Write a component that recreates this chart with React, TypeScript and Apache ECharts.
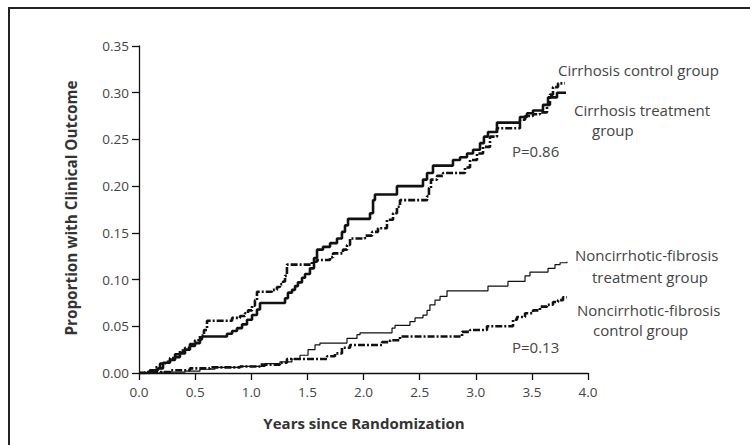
import React, { useEffect, useRef } from "react";
import * as echarts from "echarts";

// Years since randomization / cumulative proportion (step functions)
const cirrhosisTreatment: [number, number][] = [
  [0, 0], [0.098, 0.003], [0.169, 0.005], [0.214, 0.011], [0.276, 0.014], [0.321, 0.017],
  [0.365, 0.021], [0.41, 0.025], [0.454, 0.029], [0.499, 0.032], [0.543, 0.036], [0.561, 0.039],
  [0.784, 0.042], [0.829, 0.045], [0.873, 0.048], [0.918, 0.052], [0.962, 0.057], [1.007, 0.062],
  [1.051, 0.068], [1.078, 0.075], [1.301, 0.08], [1.327, 0.086], [1.363, 0.089], [1.39, 0.093],
  [1.416, 0.097], [1.452, 0.102], [1.479, 0.106], [1.523, 0.112], [1.559, 0.123], [1.586, 0.132],
  [1.639, 0.135], [1.702, 0.139], [1.764, 0.144], [1.808, 0.151], [1.835, 0.158], [1.862, 0.165],
  [2.058, 0.171], [2.085, 0.185], [2.102, 0.191], [2.298, 0.2], [2.53, 0.207], [2.566, 0.214],
  [2.619, 0.222], [2.797, 0.228], [2.86, 0.231], [2.922, 0.235], [2.976, 0.239], [3.038, 0.246],
  [3.073, 0.253], [3.109, 0.258], [3.189, 0.268], [3.394, 0.274], [3.457, 0.278], [3.51, 0.281],
  [3.599, 0.287], [3.644, 0.295], [3.724, 0.3], [3.804, 0.3],
];

const cirrhosisControl: [number, number][] = [
  [0, 0], [0.053, 0.001], [0.098, 0.003], [0.143, 0.006], [0.187, 0.01], [0.232, 0.012],
  [0.276, 0.016], [0.321, 0.02], [0.365, 0.024], [0.41, 0.027], [0.454, 0.031], [0.499, 0.035],
  [0.543, 0.04], [0.579, 0.046], [0.606, 0.056], [0.829, 0.059], [0.9, 0.061], [0.944, 0.064],
  [0.971, 0.067], [1.007, 0.072], [1.033, 0.078], [1.051, 0.087], [1.185, 0.089], [1.229, 0.092],
  [1.256, 0.095], [1.283, 0.098], [1.301, 0.104], [1.318, 0.116], [1.541, 0.119], [1.586, 0.121],
  [1.702, 0.124], [1.728, 0.128], [1.817, 0.132], [1.853, 0.137], [1.88, 0.144], [2.013, 0.147],
  [2.076, 0.151], [2.129, 0.155], [2.209, 0.164], [2.263, 0.171], [2.298, 0.178], [2.325, 0.185],
  [2.566, 0.189], [2.583, 0.198], [2.601, 0.207], [2.655, 0.211], [2.708, 0.214], [2.904, 0.22],
  [2.949, 0.228], [3.011, 0.235], [3.065, 0.242], [3.127, 0.253], [3.189, 0.262], [3.394, 0.271],
  [3.439, 0.275], [3.51, 0.277], [3.572, 0.279], [3.635, 0.287], [3.661, 0.298], [3.688, 0.306],
  [3.733, 0.31], [3.795, 0.31],
];

const noncirrhoticTreatment: [number, number][] = [
  [0, 0], [0.187, 0.001], [0.41, 0.002], [0.543, 0.004], [0.677, 0.006], [0.9, 0.007],
  [1.122, 0.01], [1.256, 0.012], [1.363, 0.015], [1.434, 0.019], [1.506, 0.025], [1.568, 0.03],
  [1.612, 0.032], [1.853, 0.037], [1.942, 0.041], [1.969, 0.043], [2.254, 0.048], [2.281, 0.051],
  [2.414, 0.055], [2.459, 0.059], [2.53, 0.062], [2.566, 0.067], [2.592, 0.073], [2.637, 0.078],
  [2.682, 0.082], [2.744, 0.088], [3.109, 0.093], [3.287, 0.098], [3.439, 0.104], [3.483, 0.108],
  [3.644, 0.112], [3.706, 0.116], [3.751, 0.118], [3.813, 0.119],
];

const noncirrhoticControl: [number, number][] = [
  [0, 0], [0.098, 0.001], [0.276, 0.003], [0.454, 0.005], [0.633, 0.006], [0.9, 0.007],
  [1.078, 0.009], [1.256, 0.011], [1.318, 0.015], [1.675, 0.018], [1.746, 0.021], [1.808, 0.027],
  [1.88, 0.03], [2.165, 0.033], [2.236, 0.035], [2.325, 0.039], [2.878, 0.044], [2.949, 0.046],
  [3.1, 0.05], [3.332, 0.057], [3.367, 0.06], [3.439, 0.064], [3.51, 0.067], [3.572, 0.071],
  [3.635, 0.073], [3.688, 0.076], [3.733, 0.078], [3.777, 0.081], [3.813, 0.081],
];

const xTickMax = 4.0;
const xInterval = 0.5;
const yTickMax = 0.35;
const yInterval = 0.05;

const yTitle = "Proportion with Clinical Outcome";
const xTitle = "Years since Randomization";

const FONT = "'Open Sans', 'DejaVu Sans', sans-serif";
const INK = "#111";
const TXT = "#444";

export default function App() {
  const ref = useRef<HTMLDivElement>(null);
  useEffect(() => {
    if (!ref.current) return;
    const chart = echarts.init(ref.current, undefined, { renderer: "svg" });
    const label = (text: string, x: number, y: number) => ({
      type: "text",
      x,
      y,
      style: {
        text,
        fill: TXT,
        font: `15px ${FONT}`,
        textVerticalAlign: "middle",
      },
    });
    chart.setOption({
      animation: false,
      backgroundColor: "#fff",
      grid: { left: 139, top: 46, right: 162, bottom: 72, containLabel: false },
      xAxis: {
        type: "value",
        min: 0,
        max: xTickMax,
        interval: xInterval,
        axisLine: { lineStyle: { color: INK, width: 1.3 } },
        axisTick: { show: true, inside: false, length: 7, lineStyle: { color: INK, width: 1.3 } },
        splitLine: { show: false },
        axisLabel: {
          formatter: (v: number) => v.toFixed(1),
          color: TXT,
          fontFamily: FONT,
          fontSize: 13.5,
          margin: 12,
        },
      },
      yAxis: {
        type: "value",
        min: 0,
        max: yTickMax,
        interval: yInterval,
        axisLine: { show: true, lineStyle: { color: INK, width: 1.3 } },
        axisTick: { show: true, inside: false, length: 7, lineStyle: { color: INK, width: 1.3 } },
        splitLine: { show: false },
        axisLabel: {
          formatter: (v: number) => v.toFixed(2),
          color: TXT,
          fontFamily: FONT,
          fontSize: 13.5,
          margin: 10,
        },
      },
      series: [
        {
          name: "Cirrhosis treatment group",
          type: "line",
          step: "end",
          showSymbol: false,
          data: cirrhosisTreatment,
          lineStyle: { color: INK, width: 2.6 },
          z: 3,
        },
        {
          name: "Cirrhosis control group",
          type: "line",
          step: "end",
          showSymbol: false,
          data: cirrhosisControl,
          lineStyle: { color: INK, width: 2.6, type: [7, 2, 2, 2] },
          z: 2,
        },
        {
          name: "Noncirrhotic-fibrosis treatment group",
          type: "line",
          step: "end",
          showSymbol: false,
          data: noncirrhoticTreatment,
          lineStyle: { color: INK, width: 1.2 },
          z: 3,
        },
        {
          name: "Noncirrhotic-fibrosis control group",
          type: "line",
          step: "end",
          showSymbol: false,
          data: noncirrhoticControl,
          lineStyle: { color: INK, width: 2.6, type: [7, 2, 2, 2] },
          z: 2,
        },
      ],
      graphic: [
        {
          type: "rect",
          shape: { x: 9, y: 8, width: 900, height: 600 },
          style: { fill: "none", stroke: "#222", lineWidth: 2 },
          silent: true,
        },
        {
          type: "text",
          x: 71,
          y: 208,
          rotation: Math.PI / 2,
          style: {
            text: yTitle,
            fill: "#333",
            font: `bold 15.3px ${FONT}`,
            textAlign: "center",
            textVerticalAlign: "middle",
          },
        },
        {
          type: "text",
          x: 364,
          y: 423,
          style: {
            text: xTitle,
            fill: "#333",
            font: `bold 15px ${FONT}`,
            textAlign: "center",
            textVerticalAlign: "middle",
          },
        },
        label("Cirrhosis control group", 558, 70),
        label("Cirrhosis treatment", 574, 110),
        label("group", 592, 130),
        label("P=0.86", 512, 151),
        label("Noncirrhotic-fibrosis", 575, 255),
        label("treatment group", 592, 277),
        label("Noncirrhotic-fibrosis", 577, 310),
        label("control group", 593, 330),
        label("P=0.13", 512, 347),
      ],
    });
    return () => chart.dispose();
  }, []);
  return (
    <div
      ref={ref}
      style={{ position: "fixed", left: 0, top: 0, width: 750, height: 445, background: "#fff" }}
    />
  );
}
